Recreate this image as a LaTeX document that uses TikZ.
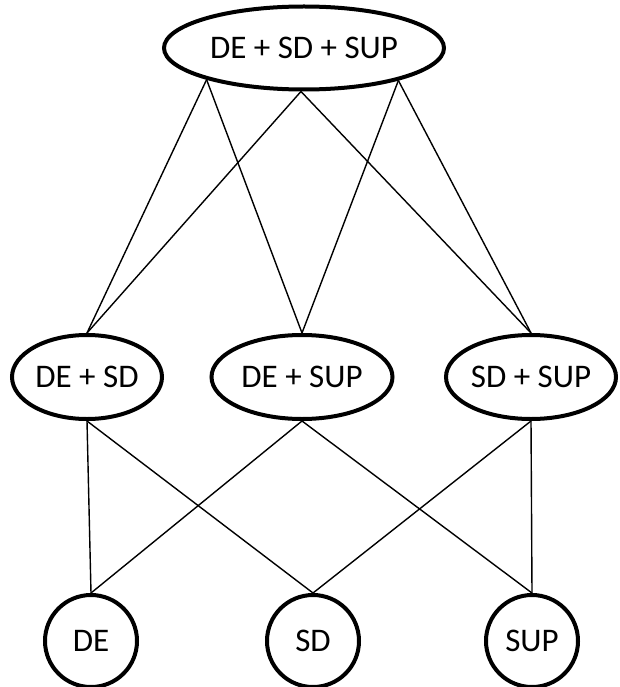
\documentclass[tikz,border=0pt]{standalone}
\usepackage{fontspec}
\setmainfont{Carlito}
\usetikzlibrary{shapes.geometric}
\begin{document}
\begin{tikzpicture}[x=1pt,y=-1pt,
  oval/.style={draw, ellipse, line width=4pt, inner sep=0pt, font=\fontsize{33}{40}\selectfont},
  leaf/.style={draw, circle, line width=4pt, inner sep=0pt, minimum size=92pt, font=\fontsize{33}{40}\selectfont},
  link/.style={line width=1.4pt}]
\useasboundingbox (0,0) rectangle (620,687);
% top
\node[oval, minimum width=280pt, minimum height=83pt] (all) at (304,48) {DE + SD + SUP};
% middle
\node[oval, minimum width=150pt, minimum height=84pt] (desd) at (87,377) {DE + SD};
\node[oval, minimum width=181pt, minimum height=84pt] (desup) at (302,377) {DE + SUP};
\node[oval, minimum width=168pt, minimum height=84pt] (sdsup) at (531,377) {SD + SUP};
% bottom
\node[leaf] (de) at (91,641) {DE};
\node[leaf] (sd) at (313,641) {SD};
\node[leaf] (sup) at (532,641) {SUP};
% connectors top -> middle
\draw[link] (all.198) -- (desd.north);
\draw[link] (all.198) -- (desup.north);
\draw[link] (all.266) -- (desd.north);
\draw[link] (all.266) -- (sdsup.north);
\draw[link] (all.341) -- (desup.north);
\draw[link] (all.341) -- (sdsup.north);
% connectors middle -> bottom
\draw[link] (desd.south) -- (de.north);
\draw[link] (desd.south) -- (sd.north);
\draw[link] (desup.south) -- (de.north);
\draw[link] (desup.south) -- (sup.north);
\draw[link] (sdsup.south) -- (sd.north);
\draw[link] (sdsup.south) -- (sup.north);
\end{tikzpicture}
\end{document}
